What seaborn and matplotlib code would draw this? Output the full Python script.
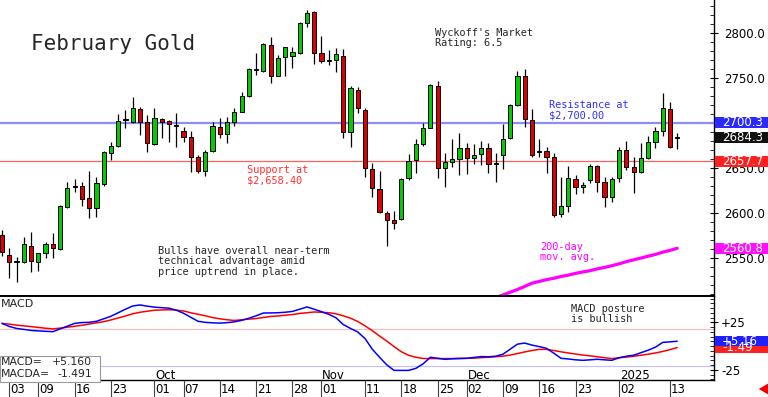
import numpy as np
import pandas as pd
import seaborn as sns
import matplotlib.pyplot as plt
import matplotlib.transforms as mtransforms
from matplotlib.patches import Rectangle
from matplotlib.ticker import MultipleLocator

# daily OHLC, Aug 30 2024 .. Jan 14 2025
opens = [2575.6, 2553.3, 2546.0, 2545.6, 2563.3, 2545.6, 2555.6, 2565.6, 2560.0, 2606.7,
         2628.5, 2630.0, 2616.7, 2605.6, 2632.2, 2666.7, 2674.4, 2703.5, 2701.1, 2715.6,
         2701.1, 2676.7, 2704.4, 2702.2, 2697.0, 2691.1, 2684.4, 2662.2, 2646.7, 2668.9,
         2695.6, 2687.8, 2701.1, 2712.2, 2730.0, 2759.5, 2757.8, 2786.7, 2752.2, 2773.3,
         2774.4, 2777.8, 2811.1, 2823.3, 2777.8, 2768.5, 2770.0, 2774.4, 2690.0, 2736.7,
         2714.4, 2648.9, 2626.7, 2600.0, 2592.2, 2593.3, 2638.9, 2658.9, 2676.7, 2694.4,
         2741.1, 2650.0, 2656.7, 2660.0, 2672.2, 2661.1, 2665.6, 2672.2, 2655.0, 2664.4,
         2683.3, 2720.0, 2752.2, 2703.3, 2668.0, 2669.0, 2662.2, 2598.9, 2607.8, 2637.8,
         2628.9, 2636.7, 2652.2, 2634.4, 2617.8, 2638.9, 2670.0, 2651.1, 2645.6, 2661.1,
         2678.9, 2691.1, 2715.6, 2683.5]
highs = [2581.1, 2561.1, 2551.1, 2573.3, 2578.9, 2556.0, 2568.0, 2577.8, 2609.0, 2634.4,
         2637.8, 2634.4, 2646.7, 2640.0, 2669.0, 2678.9, 2710.0, 2714.4, 2728.9, 2718.0,
         2708.9, 2716.7, 2705.6, 2703.3, 2711.1, 2695.6, 2691.1, 2664.4, 2670.0, 2701.1,
         2705.6, 2706.7, 2716.7, 2734.4, 2761.0, 2777.8, 2789.0, 2795.6, 2775.6, 2785.0,
         2784.4, 2812.0, 2825.6, 2824.4, 2796.7, 2781.1, 2783.3, 2782.2, 2741.1, 2740.0,
         2716.7, 2655.6, 2646.7, 2602.2, 2602.2, 2638.9, 2665.6, 2682.2, 2700.0, 2743.3,
         2746.7, 2666.7, 2682.2, 2688.9, 2677.8, 2676.7, 2680.0, 2677.8, 2666.7, 2698.9,
         2721.1, 2757.8, 2760.0, 2715.6, 2682.2, 2673.3, 2666.7, 2640.0, 2652.2, 2642.2,
         2634.4, 2654.4, 2653.3, 2640.0, 2640.0, 2673.3, 2680.0, 2662.2, 2677.8, 2685.6,
         2695.6, 2733.3, 2723.3, 2689.0]
lows = [2552.2, 2527.8, 2523.3, 2544.4, 2534.4, 2535.6, 2550.0, 2550.0, 2559.0, 2606.0,
        2623.3, 2607.8, 2594.4, 2595.6, 2630.0, 2658.9, 2673.3, 2694.4, 2700.0, 2686.7,
        2667.8, 2675.6, 2683.3, 2678.9, 2673.3, 2678.9, 2645.6, 2644.4, 2641.1, 2667.8,
        2683.3, 2677.8, 2696.7, 2712.0, 2729.0, 2753.3, 2756.7, 2744.4, 2752.0, 2752.2,
        2761.1, 2776.7, 2806.7, 2765.6, 2766.7, 2764.4, 2756.7, 2683.3, 2673.3, 2711.1,
        2640.0, 2617.8, 2600.0, 2563.3, 2582.2, 2592.2, 2636.7, 2644.4, 2674.4, 2694.0,
        2638.9, 2628.9, 2651.1, 2642.2, 2643.3, 2654.4, 2653.3, 2644.4, 2634.4, 2648.9,
        2682.0, 2719.0, 2695.6, 2662.2, 2662.2, 2644.4, 2595.6, 2595.6, 2601.1, 2621.1,
        2622.2, 2633.3, 2623.3, 2606.7, 2612.2, 2634.4, 2647.8, 2622.2, 2645.0, 2660.0,
        2672.2, 2685.6, 2672.0, 2671.0]
closes = [2556.7, 2545.6, 2547.0, 2565.6, 2546.7, 2555.6, 2565.6, 2561.1, 2607.8, 2627.8,
          2629.0, 2615.6, 2605.6, 2633.3, 2667.8, 2674.4, 2702.2, 2703.0, 2716.7, 2701.1,
          2677.8, 2705.6, 2701.1, 2698.9, 2696.7, 2684.4, 2662.2, 2646.7, 2667.8, 2696.7,
          2687.8, 2701.1, 2712.2, 2730.0, 2760.0, 2758.9, 2787.8, 2752.2, 2772.2, 2784.4,
          2778.9, 2811.1, 2822.2, 2777.8, 2768.9, 2769.0, 2776.7, 2690.0, 2738.9, 2716.7,
          2650.0, 2627.8, 2601.1, 2592.2, 2588.9, 2637.8, 2657.8, 2676.7, 2694.4, 2742.2,
          2650.0, 2656.7, 2660.0, 2672.2, 2661.1, 2664.4, 2672.2, 2654.4, 2654.5, 2682.2,
          2720.0, 2752.2, 2704.4, 2664.4, 2667.8, 2662.2, 2597.8, 2607.8, 2638.9, 2628.9,
          2631.1, 2652.2, 2634.4, 2617.8, 2637.8, 2670.0, 2651.1, 2645.6, 2661.1, 2678.9,
          2691.1, 2716.7, 2673.3, 2684.3]
# 200-day moving average, only the visible tail
ma200 = [np.nan] * 66 + [2500.0, 2503.0, 2506.0, 2509.0, 2512.0, 2515.0, 2518.5, 2522.0, 2524.0,
                         2526.0, 2527.5, 2529.5, 2531.0, 2533.0, 2534.5, 2536.0, 2538.0, 2539.5,
                         2541.5, 2543.5, 2546.0, 2548.0, 2550.0, 2552.0, 2554.0, 2556.5, 2558.5,
                         2560.8]
macd = [23.9, 20.7, 18.6, 17.6, 16.5, 16.0, 15.6, 15.2, 18.1, 21.0,
        23.9, 24.8, 25.0, 26.1, 28.7, 31.4, 35.1, 38.8, 42.2, 43.3,
        42.0, 41.0, 40.4, 39.9, 37.8, 34.6, 30.3, 26.1, 25.0, 24.5,
        24.2, 24.7, 25.5, 27.1, 29.3, 31.9, 34.8, 34.9, 35.1, 35.6,
        36.5, 38.8, 41.2, 38.8, 36.2, 33.5, 29.8, 22.7, 18.6, 14.9,
        8.0, -3.2, -11.7, -19.7, -25.5, -25.5, -25.5, -23.4, -18.6, -11.7,
        -12.8, -13.8, -13.3, -13.1, -12.8, -11.9, -11.0, -11.2, -10.6, -8.5,
        -3.2, 2.1, 3.2, 1.1, -0.5, -2.3, -7.4, -12.8, -13.5, -14.4,
        -14.9, -14.4, -13.8, -14.4, -14.9, -12.2, -10.6, -9.6, -6.9, -4.3,
        -1.1, 3.9, 4.5, 5.16]
macda = [23.9, 23.1, 22.1, 21.3, 20.5, 19.7, 18.8, 18.1, 18.9, 19.9,
         20.9, 21.9, 23.2, 24.5, 25.7, 27.5, 29.6, 31.7, 34.0, 35.6,
         36.7, 37.7, 38.0, 38.3, 37.8, 37.0, 35.1, 33.5, 31.9, 30.0,
         28.7, 27.7, 27.0, 27.7, 28.4, 29.0, 30.1, 31.2, 31.7, 32.5,
         33.2, 34.4, 35.1, 35.9, 35.6, 35.1, 34.0, 31.9, 29.3, 25.9,
         21.3, 16.3, 10.6, 5.3, -0.5, -5.9, -9.6, -11.7, -13.0, -13.1,
         -13.1, -13.1, -13.1, -12.8, -12.8, -12.6, -12.1, -11.7, -11.1, -10.5,
         -9.4, -7.8, -6.1, -4.6, -3.4, -3.4, -4.6, -6.0, -7.2, -8.3,
         -9.4, -10.2, -11.2, -12.2, -13.1, -12.2, -11.5, -10.6, -9.6, -8.5,
         -7.2, -5.6, -3.7, -1.49]

date_ticks = [2, 6, 11, 16, 22, 26, 31, 36, 41, 45, 51, 56, 61, 65, 70, 75, 80, 86, 93]
date_labels = ['03', '09', '16', '23', '01', '07', '14', '21', '28', '01',
               '11', '18', '25', '02', '09', '16', '23', '02', '13']
month_ticks = [22, 45, 65, 86]
month_labels = ['Oct', 'Nov', 'Dec', '2025']
price_ticks = [2550, 2600, 2650, 2700, 2750, 2800]
# 2700.0 sits fully under the resistance tag in the original
price_tick_labels = ['2550.0', '2600.0', '2650.0', '', '2750.0', '2800.0']

resistance = 2700.3
support = 2657.7
last_price = 2684.3
ma_last = 2560.8
macd_last = 5.16
macda_last = -1.49

W, H = 768, 397
sns.set_theme(style="white")
plt.rcParams['font.family'] = ['DejaVu Sans']

fig = plt.figure(figsize=(W / 100, H / 100), dpi=100)


def fax(x0, y0, x1, y1):
    return fig.add_axes([x0 / W, 1 - y1 / H, (x1 - x0) / W, (y1 - y0) / H])


def px(x, y):
    return x / W, 1 - y / H


ax = fax(0, 0, 714, 296)
mx = fax(0, 296, 714, 380)
dx = fax(0, 380, 714, 397)
for a in (ax, mx, dx):
    a.set_facecolor('white')
    a.set_xlim(0.72, 99.07)

df = pd.DataFrame({'i': np.arange(1, len(opens) + 1), 'o': opens, 'h': highs,
                   'l': lows, 'c': closes, 'ma': ma200, 'macd': macd, 'macda': macda})

# --- price panel
ax.axhline(resistance, color='#8c8cff', lw=1.6, zorder=1)
ax.axhline(support, color='#ff6060', lw=0.9, zorder=1)
ax.vlines(df.i, df.l, df.h, color='black', lw=0.9, zorder=2)
up = df.c >= df.o
body = (df.c - df.o).abs().clip(lower=1.0)
ax.bar(df.i, body, bottom=df[['o', 'c']].min(axis=1), width=0.58,
       color=np.where(up, '#00cc00', '#dd0000'), edgecolor='black', linewidth=0.7, zorder=3)
sns.lineplot(data=df, x='i', y='ma', ax=ax, color='#ff00ff', lw=2.3, zorder=2)

ax.set_ylim(2507.8, 2836.7)
ax.set_xticks([])
ax.set_xlabel('')
ax.set_ylabel('')
ax.yaxis.tick_right()
ax.set_yticks(price_ticks)
ax.set_yticklabels(price_tick_labels)
ax.yaxis.set_minor_locator(MultipleLocator(10))
ax.tick_params(axis='y', which='major', direction='inout', length=6, width=0.8,
               labelsize=8.5, pad=4, colors='black', right=True)
ax.tick_params(axis='y', which='minor', direction='in', length=3, width=0.7, right=True)
for s in ('left', 'top'):
    ax.spines[s].set_visible(False)
ax.spines['right'].set_color('black')
ax.spines['right'].set_linewidth(1.0)
ax.spines['bottom'].set_color('black')
ax.spines['bottom'].set_linewidth(1.4)


def tag(a, y, text, color, h):
    tr = mtransforms.blended_transform_factory(a.transAxes, a.transData)
    a.add_patch(Rectangle((1.0015, y - h / 2), (W - 715) / 714, h, transform=tr,
                          facecolor=color, edgecolor='none', clip_on=False, zorder=5))
    a.text(1.0 + 8 / 714, y, text, transform=tr, color='white', fontsize=8.5,
           va='center', ha='left', clip_on=False, zorder=6)


tag(ax, resistance, '2700.3', '#2a2aff', 12.2)
tag(ax, last_price, '2684.3', '#111111', 12.2)
tag(ax, support, '2657.7', '#ff2020', 12.2)
tag(ax, ma_last, '2560.8', '#ff10ff', 12.2)

# --- MACD panel
mx.axhline(18, color='#ffb8b8', lw=0.8)
mx.axhline(-21, color='#c0c0ff', lw=0.8)
sns.lineplot(data=df, x='i', y='macda', ax=mx, color='#ff0000', lw=1.1)
sns.lineplot(data=df, x='i', y='macd', ax=mx, color='#0000ff', lw=1.1)
mx.set_ylim(-35.6, 52.7)
mx.set_xticks([])
mx.set_xlabel('')
mx.set_ylabel('')
mx.yaxis.tick_right()
mx.set_yticks([-25, 25])
mx.set_yticklabels(['-25', '+25'])
mx.yaxis.set_minor_locator(MultipleLocator(5))
mx.tick_params(axis='y', which='major', direction='inout', length=6, width=0.8,
               labelsize=8.5, pad=2, colors='black', right=True)
mx.tick_params(axis='y', which='minor', direction='in', length=3, width=0.7, right=True)
mx.spines['left'].set_visible(False)
for s in ('right', 'bottom', 'top'):
    mx.spines[s].set_color('black')
mx.spines['top'].set_linewidth(1.4)
mx.spines['right'].set_linewidth(1.0)
mx.spines['bottom'].set_linewidth(1.0)
tag(mx, macda_last, '-1.49', '#ff2020', 10.6)
tag(mx, macd_last, '+5.16', '#2020ff', 10.6)

for t, lab in zip(month_ticks, month_labels):
    mx.text(t + 0.1, -30.5, lab, fontsize=8.5, ha='left', va='center', color='black')

# --- date row
dx.axis('off')
dx.set_ylim(0, 1)
dx.vlines(date_ticks, 0, 1, color='#444444', lw=0.8)
for t, lab in zip(date_ticks, date_labels):
    dx.text(t + 0.15, 0.45, lab, fontsize=8.5, ha='left', va='center', color='black')

# --- annotations
mono = 'DejaVu Sans Mono'
fig.text(*px(31, 44), 'February Gold', family=mono, fontsize=15, va='center', ha='left')
fig.text(*px(435, 28), "Wyckoff's Market\nRating: 6.5", family=mono, fontsize=7.4,
         va='top', ha='left', linespacing=1.05)
fig.text(*px(549, 100), 'Resistance at\n$2,700.00', family=mono, fontsize=7.4,
         va='top', ha='left', linespacing=1.05, color='#3030ff')
fig.text(*px(247, 165), 'Support at\n$2,658.40', family=mono, fontsize=7.4,
         va='top', ha='left', linespacing=1.05, color='#ff3030')
fig.text(*px(158, 246), 'Bulls have overall near-term\ntechnical advantage amid\nprice uptrend in place.',
         family=mono, fontsize=7.4, va='top', ha='left', linespacing=1.05)
fig.text(*px(540, 242), '200-day\nmov. avg.', family=mono, fontsize=7.4,
         va='top', ha='left', linespacing=1.05, color='#ff00ff')
fig.text(*px(571, 304), 'MACD posture\nis bullish', family=mono, fontsize=7.4,
         va='top', ha='left', linespacing=1.05)
fig.text(*px(1, 304), 'MACD', fontsize=8, va='center', ha='left')

# MACD readout box
fig.add_artist(Rectangle(px(0, 382), 100 / W, 26 / H, transform=fig.transFigure,
                         facecolor='white', edgecolor='#999999', lw=0.8, zorder=3))
fig.text(*px(1, 362), 'MACD=', fontsize=7.8, va='center', ha='left', zorder=4)
fig.text(*px(92, 362), '+5.160', fontsize=7.8, va='center', ha='right', zorder=4)
fig.text(*px(1, 374), 'MACDA=', fontsize=7.8, va='center', ha='left', zorder=4)
fig.text(*px(92, 374), '-1.491', fontsize=7.8, va='center', ha='right', zorder=4)

dx.annotate('', xy=px(756, 389), xytext=px(767, 389), xycoords='figure fraction',
            textcoords='figure fraction', annotation_clip=False,
            arrowprops=dict(arrowstyle='simple,head_width=0.7,head_length=0.6,tail_width=0.35',
                            color='#ee0000', lw=0))

fig.savefig('out.png', dpi=100, facecolor='white')
